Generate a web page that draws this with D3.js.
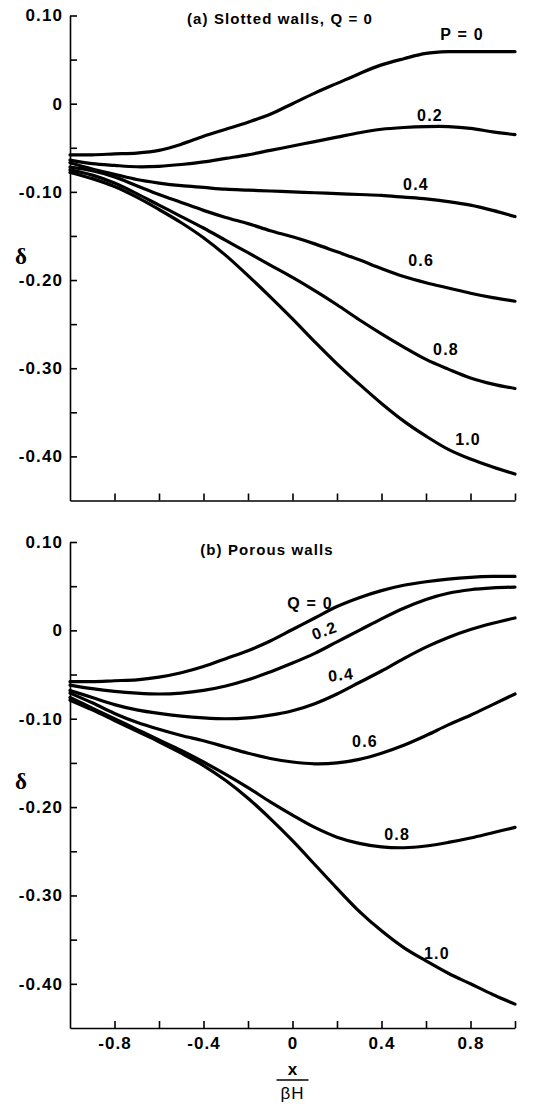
<!DOCTYPE html>
<html>
<head>
<meta charset="utf-8">
<script src="https://cdn.jsdelivr.net/npm/d3@7"></script>
<style>
  html, body { margin: 0; padding: 0; background: #fff; }
  svg { display: block; }
  .tick text { font-family: "Liberation Sans", Arial, sans-serif; font-weight: bold; font-size: 17px; letter-spacing: 1.1px; fill: #000; }
  .tick line, .domain { stroke: #000; stroke-width: 1.6px; }
</style>
</head>
<body>
<script>
// Abscissa x / (βH), shared by every curve
const xPos = [-1.0, -0.9, -0.8, -0.7, -0.6, -0.5, -0.4, -0.3, -0.2, -0.1, 0.0,
               0.1,  0.2,  0.3,  0.4,  0.5,  0.6,  0.7,  0.8,  0.9, 1.0];

// (a) Slotted walls, Q = 0 — one curve per slot parameter P
const slottedP = ["P = 0", "0.2", "0.4", "0.6", "0.8", "1.0"];
const slottedP00 = [-0.058, -0.058, -0.057, -0.056, -0.053, -0.046, -0.037, -0.029, -0.021, -0.012, 0.000,
                     0.012,  0.023,  0.034,  0.044,  0.051,  0.057,  0.059,  0.059,  0.059, 0.059];
const slottedP02 = [-0.064, -0.068, -0.070, -0.0715, -0.071, -0.069, -0.066, -0.062, -0.058, -0.053, -0.048,
                    -0.043, -0.038, -0.033, -0.029, -0.027, -0.026, -0.026, -0.028, -0.032, -0.035];
const slottedP04 = [-0.067, -0.074, -0.080, -0.086, -0.090, -0.093, -0.095, -0.097, -0.098, -0.099, -0.100,
                    -0.101, -0.102, -0.103, -0.104, -0.106, -0.108, -0.111, -0.115, -0.121, -0.128];
const slottedP06 = [-0.072, -0.076, -0.083, -0.093, -0.103, -0.112, -0.121, -0.129, -0.136, -0.144, -0.151,
                    -0.159, -0.168, -0.177, -0.187, -0.196, -0.203, -0.209, -0.215, -0.220, -0.224];
const slottedP08 = [-0.075, -0.081, -0.090, -0.102, -0.115, -0.128, -0.141, -0.155, -0.169, -0.183, -0.197,
                    -0.212, -0.228, -0.245, -0.261, -0.276, -0.290, -0.301, -0.311, -0.318, -0.323];
const slottedP10 = [-0.078, -0.085, -0.094, -0.106, -0.120, -0.135, -0.152, -0.172, -0.195, -0.219, -0.244,
                    -0.270, -0.295, -0.318, -0.340, -0.360, -0.377, -0.392, -0.403, -0.412, -0.420];

// (b) Porous walls — one curve per porosity parameter Q
const porousQ = ["Q = 0", "0.2", "0.4", "0.6", "0.8", "1.0"];
const porousQ00 = [-0.058, -0.058, -0.057, -0.056, -0.053, -0.048, -0.041, -0.032, -0.023, -0.012, 0.001,
                    0.014,  0.027,  0.037,  0.045,  0.051,  0.055,  0.058,  0.060,  0.061, 0.061];
const porousQ02 = [-0.062, -0.066, -0.069, -0.071, -0.072, -0.071, -0.068, -0.063, -0.056, -0.047, -0.037,
                   -0.026, -0.013,  0.000,  0.013,  0.025,  0.035,  0.042,  0.046,  0.048, 0.049];
const porousQ04 = [-0.068, -0.076, -0.084, -0.090, -0.094, -0.097, -0.099, -0.100, -0.099, -0.096, -0.091,
                   -0.083, -0.072, -0.059, -0.046, -0.032, -0.019, -0.008,  0.001,  0.008, 0.014];
const porousQ06 = [-0.071, -0.082, -0.094, -0.104, -0.112, -0.119, -0.125, -0.132, -0.139, -0.145, -0.149,
                   -0.151, -0.150, -0.146, -0.139, -0.130, -0.119, -0.107, -0.096, -0.084, -0.072];
const porousQ08 = [-0.076, -0.088, -0.100, -0.112, -0.124, -0.136, -0.149, -0.163, -0.178, -0.194, -0.209,
                   -0.223, -0.234, -0.241, -0.245, -0.246, -0.244, -0.240, -0.235, -0.229, -0.223];
const porousQ10 = [-0.079, -0.090, -0.102, -0.114, -0.126, -0.139, -0.153, -0.170, -0.190, -0.213, -0.238,
                   -0.265, -0.292, -0.318, -0.340, -0.359, -0.374, -0.388, -0.400, -0.412, -0.423];

// Axis ticks
const yMajorTicks  = [0.10, 0.0, -0.10, -0.20, -0.30, -0.40];
const yMajorLabels = ["0.10", "0", "-0.10", "-0.20", "-0.30", "-0.40"];
const yMinorTicks  = [0.05, -0.05, -0.15, -0.25, -0.35];
const xTicks       = [-0.8, -0.6, -0.4, -0.2, 0.0, 0.2, 0.4, 0.6, 0.8, 1.0];
const xLabelTicks  = [-0.8, -0.4, 0.0, 0.4, 0.8];
const xTickLabels  = ["-0.8", "-0.4", "0", "0.4", "0.8"];

const W = 533, H = 1104;
const svg = d3.select("body").append("svg").attr("width", W).attr("height", H);

const x = d3.scaleLinear().domain([-1, 1]).range([70, 515]);

const panels = [
  {
    title: "(a) Slotted walls, Q = 0", titleX: 280, titleY: 24,
    yRange: [15.5, 500.5], showXLabels: false, deltaY: 256,
    names: slottedP,
    values: [slottedP00, slottedP02, slottedP04, slottedP06, slottedP08, slottedP10],
    // curve-label anchors in data units, plus rotation in degrees
    labels: [[0.762, 0.079, 0], [0.618, -0.013, 0], [0.555, -0.091, 0],
             [0.578, -0.177, 0], [0.690, -0.278, 0], [0.789, -0.381, 0]]
  },
  {
    title: "(b) Porous walls", titleX: 267, titleY: 555,
    yRange: [542, 1028], showXLabels: true, deltaY: 781,
    names: porousQ,
    values: [porousQ00, porousQ02, porousQ04, porousQ06, porousQ08, porousQ10],
    labels: [[0.079, 0.031, 0], [0.143, 0.000, -20], [0.218, -0.050, -6],
             [0.326, -0.125, 0], [0.470, -0.231, 0], [0.649, -0.365, 0]]
  }
];

const lineGen = (y) => d3.line()
  .x(d => x(d[0]))
  .y(d => y(d[1]))
  .curve(d3.curveCatmullRom.alpha(0.5));

panels.forEach(p => {
  const y = d3.scaleLinear().domain([0.10, -0.45]).range(p.yRange);
  const g = svg.append("g");

  // y axis: major ticks with labels, minor ticks between
  g.append("g")
    .attr("transform", `translate(${x(-1)},0)`)
    .call(d3.axisLeft(y)
      .tickValues(yMajorTicks.concat(yMinorTicks))
      .tickSizeInner(-7).tickSizeOuter(0).tickPadding(7)
      .tickFormat(v => {
        const i = yMajorTicks.findIndex(t => Math.abs(t - v) < 1e-9);
        return i >= 0 ? yMajorLabels[i] : "";
      }));

  // x axis along the bottom, ticks pointing inward
  g.append("g")
    .attr("transform", `translate(0,${y(-0.45)})`)
    .call(d3.axisBottom(x)
      .tickValues(xTicks)
      .tickSizeInner(-7).tickSizeOuter(0).tickPadding(9)
      .tickFormat(v => {
        if (!p.showXLabels) return "";
        const i = xLabelTicks.findIndex(t => Math.abs(t - v) < 1e-9);
        return i >= 0 ? xTickLabels[i] : "";
      }));

  g.selectAll(".domain").attr("stroke-width", 1.8);

  // curves
  const line = lineGen(y);
  p.values.forEach(vals => {
    g.append("path")
      .datum(xPos.map((u, i) => [u, vals[i]]))
      .attr("d", line)
      .attr("fill", "none")
      .attr("stroke", "#000")
      .attr("stroke-width", 3.2)
      .attr("stroke-linejoin", "round")
      .attr("stroke-linecap", "round");
  });

  // curve labels
  p.names.forEach((name, i) => {
    const [lu, lv, rot] = p.labels[i];
    g.append("text")
      .attr("transform", `translate(${x(lu)},${y(lv)}) rotate(${rot})`)
      .attr("text-anchor", "middle")
      .attr("dy", "0.36em")
      .style("font-family", "'Liberation Sans', Arial, sans-serif")
      .style("font-weight", "bold")
      .style("font-size", "16px")
      .style("letter-spacing", "1.2px")
      .text(name);
  });

  // panel title
  g.append("text")
    .attr("x", p.titleX).attr("y", p.titleY)
    .attr("text-anchor", "middle")
    .style("font-family", "'Liberation Sans', Arial, sans-serif")
    .style("font-weight", "bold")
    .style("font-size", "15px")
    .style("letter-spacing", "1.1px")
    .text(p.title);

  // ordinate symbol
  g.append("text")
    .attr("x", 21).attr("y", p.deltaY)
    .attr("text-anchor", "middle")
    .attr("dy", "0.35em")
    .style("font-family", "'Liberation Serif', 'Times New Roman', serif")
    .style("font-weight", "bold")
    .style("font-size", "23px")
    .text("δ");
});

// abscissa label x / βH
const xl = svg.append("g").attr("transform", `translate(${x(0)},0)`);
xl.append("text")
  .attr("x", 0).attr("y", 1075)
  .attr("text-anchor", "middle")
  .style("font-family", "'Liberation Sans', Arial, sans-serif")
  .style("font-weight", "bold")
  .style("font-size", "17px")
  .text("x");
xl.append("line")
  .attr("x1", -16).attr("x2", 16)
  .attr("y1", 1080).attr("y2", 1080)
  .attr("stroke", "#000").attr("stroke-width", 1.5);
xl.append("text")
  .attr("x", 0).attr("y", 1099)
  .attr("text-anchor", "middle")
  .style("font-family", "'Liberation Sans', Arial, sans-serif")
  .style("font-size", "17px")
  .style("letter-spacing", "1px")
  .text("βH");
</script>
</body>
</html>
